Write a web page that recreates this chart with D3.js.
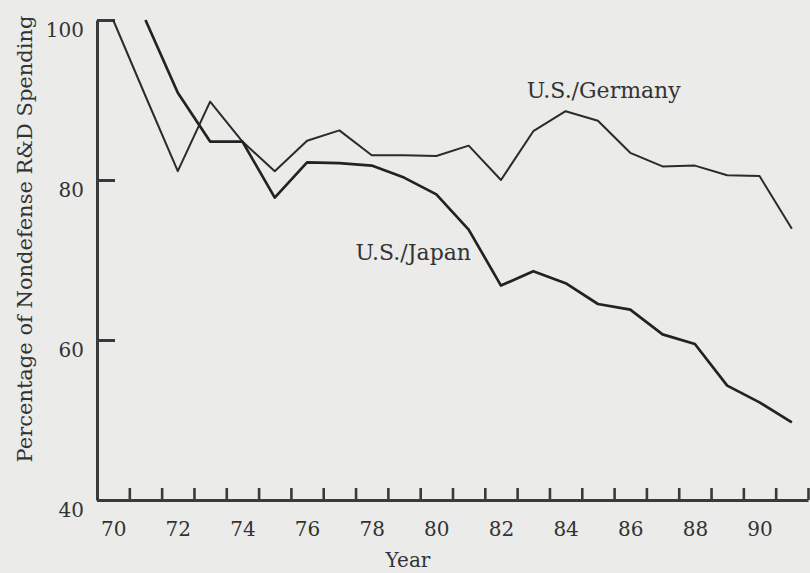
<!DOCTYPE html>
<html>
<head>
<meta charset="utf-8">
<script src="https://cdn.jsdelivr.net/npm/d3@7/dist/d3.min.js"></script>
<style>
  html, body { margin: 0; padding: 0; background: #ebebe9; }
  svg { display: block; }
  text { font-family: "DejaVu Serif", "Liberation Serif", serif; fill: #333; }
</style>
</head>
<body>
<svg id="chart" width="810" height="573"></svg>
<script>
const years = [70,71,72,73,74,75,76,77,78,79,80,81,82,83,84,85,86,87,88,89,90,91];
const germany = [100,90.5,81.1,89.8,84.8,81.1,84.9,86.2,83.1,83.1,83.0,84.3,80.0,86.1,88.6,87.4,83.4,81.7,81.8,80.6,80.5,73.9];
const japanYears = [71,72,73,74,75,76,77,78,79,80,81,82,83,84,85,86,87,88,89,90,91];
const japan = [100,90.9,84.8,84.8,77.8,82.2,82.1,81.8,80.3,78.2,73.8,66.8,68.6,67.1,64.5,63.8,60.7,59.5,54.3,52.2,49.7];
const yTicks = [40,60,80,100];
const xLabelTicks = [70,72,74,76,78,80,82,84,86,88,90];
const xMinorTicks = [70.5,71.5,72.5,73.5,74.5,75.5,76.5,77.5,78.5,79.5,80.5,81.5,82.5,83.5,84.5,85.5,86.5,87.5,88.5,89.5,90.5,91.5];
const yTitle = "Percentage of Nondefense R&D Spending";
const xTitle = "Year";
const seriesLabels = ["U.S./Germany", "U.S./Japan"];

const svg = d3.select("#chart");
const x = d3.scaleLinear().domain([69.5, 91.5]).range([97, 808]);
const y = d3.scaleLinear().domain([40, 100]).range([500, 20]);

const axisColor = "#3a3a3a";

// Y axis
const gy = svg.append("g").attr("transform", `translate(${x(69.5)},0)`)
  .call(d3.axisLeft(y).tickValues(yTicks).tickSizeInner(-18).tickSizeOuter(0).tickPadding(13).tickFormat(d3.format("d")));
gy.select(".domain").attr("stroke", axisColor).attr("stroke-width", 3);
gy.selectAll(".tick line").attr("stroke", axisColor).attr("stroke-width", 3);
gy.selectAll(".tick text").attr("font-size", 20).attr("dy", "0.8em")
  .attr("font-family", "DejaVu Serif").attr("fill", "#333");

// X axis minor ticks
const gx = svg.append("g").attr("transform", `translate(0,${y(40)})`)
  .call(d3.axisBottom(x).tickValues(xMinorTicks).tickSizeInner(-12).tickSizeOuter(0).tickFormat(""));
gx.select(".domain").attr("stroke", axisColor).attr("stroke-width", 3);
gx.selectAll(".tick line").attr("stroke", axisColor).attr("stroke-width", 2.6);

// X axis labels
const gxl = svg.append("g").attr("transform", `translate(0,${y(40)})`)
  .call(d3.axisBottom(x).tickValues(xLabelTicks).tickSize(0).tickPadding(22).tickFormat(d3.format("d")));
gxl.select(".domain").remove();
gxl.selectAll(".tick text").attr("font-size", 20).attr("font-family", "DejaVu Serif").attr("fill", "#333");

// Lines
const line = d3.line().x(d => x(d[0])).y(d => y(d[1]));
svg.append("path").datum(years.map((yr, i) => [yr, germany[i]]))
  .attr("d", line).attr("fill", "none").attr("stroke", "#2b2b2b").attr("stroke-width", 2)
  .attr("stroke-linejoin", "round");
svg.append("path").datum(japanYears.map((yr, i) => [yr, japan[i]]))
  .attr("d", line).attr("fill", "none").attr("stroke", "#222").attr("stroke-width", 2.7)
  .attr("stroke-linejoin", "round");

// Series labels
svg.append("text").attr("x", x(82.8)).attr("y", y(90.25)).attr("font-size", 22).text(seriesLabels[0]);
svg.append("text").attr("x", x(77.5)).attr("y", y(70)).attr("font-size", 22).text(seriesLabels[1]);

// Axis titles
svg.append("text").attr("transform", `translate(32,${239}) rotate(-90)`)
  .attr("text-anchor", "middle").attr("font-size", 21).text(yTitle);
svg.append("text").attr("x", 408).attr("y", 567).attr("text-anchor", "middle")
  .attr("font-size", 20).text(xTitle);
</script>
</body>
</html>
